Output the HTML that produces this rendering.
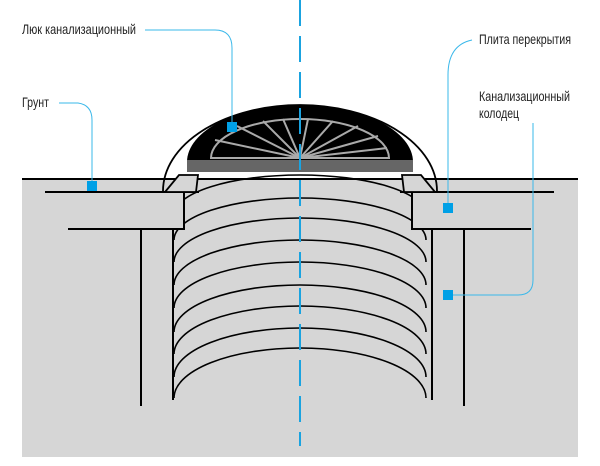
<!DOCTYPE html>
<html><head><meta charset="utf-8"><style>html,body{margin:0;padding:0;background:#fff}svg{display:block}</style></head>
<body>
<svg width="600" height="466" viewBox="0 0 600 466" xmlns="http://www.w3.org/2000/svg">
<rect x="22" y="179" width="556" height="278" fill="#d6d6d6"/>
<g fill="none" stroke="#000" stroke-width="1.6">
<path d="M174,215 A126,40 0 0 1 426,215"/>
<path d="M174,240 A126,42 0 0 1 426,240"/>
<path d="M174,262 A126,44 0 0 1 426,262"/>
<path d="M174,285 A126,45 0 0 1 426,285"/>
<path d="M174,308 A126,46 0 0 1 426,308"/>
<path d="M174,332 A126,47 0 0 1 426,332"/>
<path d="M174,354 A126,48 0 0 1 426,354"/>
<path d="M174,377 A126,49 0 0 1 426,377"/>
<path d="M174,398 A126,50 0 0 1 426,398"/>
</g>
<rect x="22" y="180" width="162" height="48" fill="#d6d6d6"/>
<rect x="412" y="180" width="166" height="48" fill="#d6d6d6"/>
<g stroke="#000" stroke-width="2" fill="none">
<line x1="22" y1="179" x2="578" y2="179"/>
<line x1="45" y1="192" x2="199" y2="192"/>
<polyline points="184,192 184,229 68,229"/>
<line x1="141" y1="229" x2="141" y2="406"/>
<line x1="173" y1="229" x2="173" y2="400"/>
<line x1="400" y1="192" x2="554" y2="192"/>
<polyline points="412,192 412,229 531,229"/>
<line x1="432" y1="229" x2="432" y2="400"/>
<line x1="464" y1="229" x2="464" y2="406"/>
</g>
<path d="M163,191 A137,86 0 0 1 437,191" fill="none" stroke="#000" stroke-width="1.8"/>
<polygon points="179,175 198,175 196,192 165,192" fill="#d6d6d6" stroke="#000" stroke-width="1.8"/>
<polygon points="402,175 421,175 435,192 404,192" fill="#d6d6d6" stroke="#000" stroke-width="1.8"/>
<path d="M187,172 L187,162 A113,57 0 0 1 413,162 L413,172 Z" fill="#000"/>
<rect x="187" y="160" width="226" height="12" fill="#666"/>
<g stroke="#aaa" stroke-width="2" fill="none">
<path d="M211,158 A89,39 0 0 1 389,158 Z"/>
<line x1="300" y1="158" x2="215" y2="140"/>
<line x1="300" y1="158" x2="237" y2="126"/>
<line x1="300" y1="158" x2="263" y2="121"/>
<line x1="300" y1="158" x2="283" y2="119"/>
<line x1="300" y1="158" x2="308" y2="119"/>
<line x1="300" y1="158" x2="333" y2="121"/>
<line x1="300" y1="158" x2="358" y2="126"/>
<line x1="300" y1="158" x2="378" y2="136"/>
<line x1="300" y1="158" x2="387" y2="148"/>
</g>
<line x1="300" y1="0" x2="300" y2="446" stroke="#1aa3e0" stroke-width="2" stroke-dasharray="26,10"/>
<g stroke="#3ab8ea" stroke-width="1" fill="none">
<path d="M145,30 L215,30 Q232,30 232,48 L232,127"/>
<path d="M59,103 L78,103 Q92,105 92,120 L92,185"/>
<path d="M472,40 Q448,45 448,75 L448,208"/>
<path d="M533,123 L533,280 Q533,295 518,295 L448,295"/>
</g>
<g fill="#00a0e6">
<rect x="227" y="122" width="10" height="10"/>
<rect x="87" y="181" width="10" height="10"/>
<rect x="443" y="203" width="10" height="10"/>
<rect x="443" y="290" width="10" height="10"/>
</g>
<g font-family="Liberation Sans, sans-serif" font-size="14" fill="#222">
<text x="22" y="34" textLength="114" lengthAdjust="spacingAndGlyphs">Люк канализационный</text>
<text x="22" y="107" textLength="27" lengthAdjust="spacingAndGlyphs">Грунт</text>
<text x="479" y="44" textLength="92" lengthAdjust="spacingAndGlyphs">Плита перекрытия</text>
<text x="479" y="101" textLength="91" lengthAdjust="spacingAndGlyphs">Канализационный</text>
<text x="479" y="118" textLength="40" lengthAdjust="spacingAndGlyphs">колодец</text>
</g>
</svg>
</body></html>
